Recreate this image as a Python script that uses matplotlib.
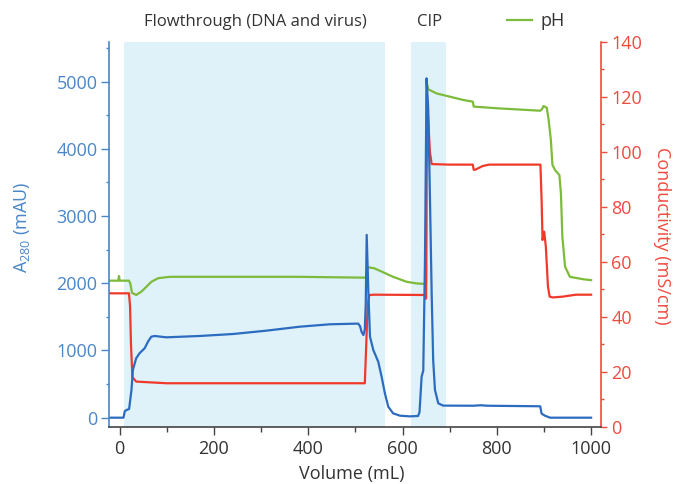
import matplotlib
matplotlib.use("Agg")
import matplotlib.pyplot as plt
from matplotlib.ticker import MultipleLocator

# ---------------- data ----------------
# A280 trace (mAU) vs volume (mL)
a280_vol = [-22, 8, 11, 15, 20, 25, 28, 35, 42, 53, 60, 67, 74, 99, 170, 240, 311, 382,
            446, 506, 510, 513, 517, 520, 522, 524, 527.6, 531, 538, 548.5, 555.6, 562.6,
            569.7, 580, 594.5, 615, 633, 636, 640.5, 644, 647.6, 651, 654.5, 658, 661.8,
            665, 668.8, 675.8, 686, 750, 766, 780, 892, 895, 902, 913, 1000]
a280_mau = [0, 0, 100, 115, 130, 410, 710, 884, 958, 1033, 1131, 1205, 1216, 1196, 1216,
            1245, 1295, 1354, 1390, 1400, 1360, 1280, 1230, 1310, 1700, 2720, 1850, 1205,
            1007, 833, 610, 363, 164, 65, 30, 20, 25, 80, 610, 700, 2347, 5050, 4600, 3340,
            1850, 860, 412, 214, 180, 178, 185, 178, 170, 60, 30, 0, 0]

# Conductivity trace (mS/cm) vs volume (mL)
cond_vol = [-22, 19.7, 22, 24, 27, 35, 100, 520, 522, 526, 529.5, 540, 647, 649,
            650, 651, 653, 655, 658, 661.8, 700, 749, 751, 755, 770, 784, 892.5, 895, 897,
            900.5, 904, 908.5, 912, 919, 940, 968, 1000]
cond_ms = [48.5, 48.5, 44, 30, 18, 16.4, 15.8, 15.8, 25, 44, 47.9, 48, 47.9, 46.5,
           47, 90, 116, 110, 100, 95.5, 95.3, 95.3, 93.4, 93.5, 94.8, 95.3, 95.3, 82.4,
           67.9, 70.9, 65.5, 50.9, 47.3, 47, 47.3, 48, 48]

# pH trace vs volume (mL)
ph_vol = [-22, -3, -1.4, 0, 19.7, 22.7, 26, 35, 46, 56.7, 67.3, 81.5, 106, 382, 520, 522,
          526, 540, 552, 580, 608.7, 630, 649, 650, 651, 654.5, 672, 700.6, 729, 749, 751,
          800, 892, 896, 899, 906, 910, 914.6, 918, 923.6, 932.7, 936, 939, 944.8, 955,
          984, 1000]
ph_val = [7.31, 7.31, 7.48, 7.31, 7.31, 7.2, 6.87, 6.79, 6.91, 7.09, 7.27, 7.40, 7.45,
          7.45, 7.42, 7.42, 7.80, 7.76, 7.67, 7.45, 7.27, 7.21, 7.19, 7.19, 14.55, 14.27,
          14.12, 14.0, 13.88, 13.82, 13.64, 13.58, 13.49, 13.55, 13.66, 13.6, 13.15, 12.43,
          11.52, 11.33, 11.15, 10.49, 8.91, 7.82, 7.45, 7.36, 7.33]

# Phases (shaded volume ranges) and their labels
phase_names = ["Flowthrough (DNA and virus)", "CIP"]
phase_start = [8.5, 618.3]
phase_end = [562, 691.5]

x_ticks = [0, 200, 400, 600, 800, 1000]
a280_ticks = [0, 1000, 2000, 3000, 4000, 5000]
cond_ticks = [0, 20, 40, 60, 80, 100, 120, 140]

# ---------------- style ----------------
plt.rcParams["font.family"] = ["Open Sans", "DejaVu Sans"]
plt.rcParams["mathtext.default"] = "regular"
FS = 13

BLUE_LINE = "#2c6cc0"
BLUE_AX = "#4a86c8"
RED = "#f0392b"
RED_AX = "#f04a3e"
GREEN = "#7dbb3a"
SHADE = "#dff1f9"
GREY = "#444444"

fig = plt.figure(figsize=(6.73, 4.84), dpi=100)
ax = fig.add_axes([109.3 / 673, 1 - 426.7 / 484, (601 - 109.3) / 673, (426.7 - 41.7) / 484])
ax_ph = ax.twinx()
ax_c = ax.twinx()

ax.set_zorder(3)
ax_c.set_zorder(2)
ax_ph.set_zorder(1)
ax.patch.set_visible(False)
ax_c.patch.set_visible(False)
ax_ph.axis("off")

# shaded phases
for s, e in zip(phase_start, phase_end):
    ax_ph.axvspan(s, e, color=SHADE, lw=0, zorder=0)

lw = 1.6
ph_line, = ax_ph.plot(ph_vol, ph_val, color=GREEN, lw=lw, label="pH")
ax_c.plot(cond_vol, cond_ms, color=RED, lw=lw)
ax.plot(a280_vol, a280_mau, color=BLUE_LINE, lw=lw)

ax.set_xlim(-22, 1021)
ax.set_ylim(-134, 5595)
ax_c.set_ylim(0, 140)
ax_ph.set_ylim(2, 16)

# spines
for sp in ["top", "right"]:
    ax.spines[sp].set_visible(False)
for sp in ["top", "left", "bottom"]:
    ax_c.spines[sp].set_visible(False)
ax.spines["left"].set_color(BLUE_AX)
ax.spines["bottom"].set_color(GREY)
ax_c.spines["right"].set_color(RED_AX)
for s in [ax.spines["left"], ax.spines["bottom"], ax_c.spines["right"]]:
    s.set_linewidth(1.2)

# ticks
ax.set_xticks(x_ticks)
ax.xaxis.set_minor_locator(MultipleLocator(100))
ax.set_yticks(a280_ticks)
ax.yaxis.set_minor_locator(MultipleLocator(500))
ax_c.set_yticks(cond_ticks)
ax_c.yaxis.set_minor_locator(MultipleLocator(10))

ax.tick_params(axis="x", which="major", direction="out", length=5.5, width=1,
               color=GREY, labelcolor="#333333", labelsize=FS, pad=4)
ax.tick_params(axis="x", which="minor", direction="out", length=3.6, width=1, color=GREY)
ax.tick_params(axis="y", which="major", direction="out", length=5.5, width=1,
               color=BLUE_AX, labelcolor=BLUE_AX, labelsize=FS, pad=3)
ax.tick_params(axis="y", which="minor", direction="out", length=2.4, width=1, color=BLUE_AX)
ax_c.tick_params(axis="y", which="major", direction="out", length=4.3, width=1,
                 color=RED_AX, labelcolor=RED_AX, labelsize=FS, pad=3)
ax_c.tick_params(axis="y", which="minor", direction="out", length=2.4, width=1, color=RED_AX)

# labels
ax.set_xlabel("Volume (mL)", fontsize=FS, color="#333333", va="center")
ax.xaxis.set_label_coords(0.493, -0.123)
ax.set_ylabel("A$_{280}$ (mAU)", fontsize=FS, color=BLUE_AX, va="center")
ax.yaxis.set_label_coords(-0.178, 0.517)
ax_c.set_ylabel("Conductivity (mS/cm)", fontsize=FS, color=RED_AX, rotation=270, va="center")
ax_c.yaxis.set_label_coords(1.124, 0.495)

# phase labels above the plot
label_x = [255, 430]
for name, px in zip(phase_names, label_x):
    fig.text(px / 673, 1 - 22 / 484, name, ha="center", va="center", fontsize=FS - 1,
             color="#333333")

fig.legend(handles=[ph_line], labels=["pH"], loc="center left",
           bbox_to_anchor=(506.7 / 673, 1 - 21 / 484), frameon=False, fontsize=FS,
           handlelength=1.4, handletextpad=0.45, borderpad=0, borderaxespad=0,
           labelcolor="#333333")

fig.savefig("out.png", dpi=100)
